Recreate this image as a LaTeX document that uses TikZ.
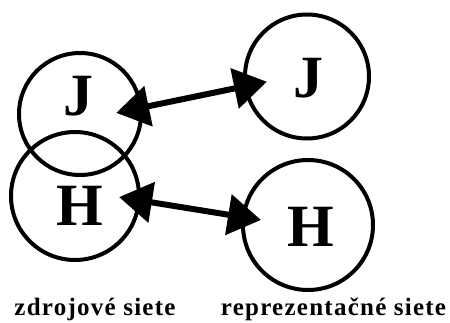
\documentclass[tikz,border=0pt]{standalone}
\usepackage{fontspec}
\setmainfont{Liberation Serif}
\usetikzlibrary{arrows.meta}
\begin{document}
\begin{tikzpicture}[x=1pt,y=1pt,
  ring/.style={draw, circle, line width=4pt, inner sep=0pt},
  letter/.style={font=\fontsize{60}{60}\selectfont\bfseries, inner sep=0pt, anchor=base},
  caption/.style={font=\addfontfeature{LetterSpace=5}\fontsize{25}{25}\selectfont\bfseries, inner sep=0pt, anchor=base},
  link/.style={line width=6pt, {Triangle[length=33pt,width=40pt]}-{Triangle[length=33pt,width=40pt]}}]
\useasboundingbox (0,0) rectangle (450,322);
\node[ring, minimum size=122pt] (jl) at (80,208) {};
\node[ring, minimum size=128pt] (hl) at (75,126) {};
\node[ring, minimum size=124pt] (jr) at (307,245.5) {};
\node[ring, minimum size=130pt] (hr) at (308,97) {};
\node[letter] (jlt) at (78,207) {J};
\node[letter] (hlt) at (80,97) {H};
\node[letter] (jrt) at (308,224.5) {J};
\node[letter] (hrt) at (311,76) {H};
\draw[link, shorten <=-27pt, shorten >=-23.6pt] (jl.6.7) -- (jr.189.3);
\draw[link, shorten <=-22pt, shorten >=-19.7pt] (hl.-4.75) -- (hr.173);
\node[caption] (src) at (95,7) {zdrojové siete};
\node[caption] (rep) at (333.5,7) {reprezentačné siete};
\end{tikzpicture}
\end{document}
